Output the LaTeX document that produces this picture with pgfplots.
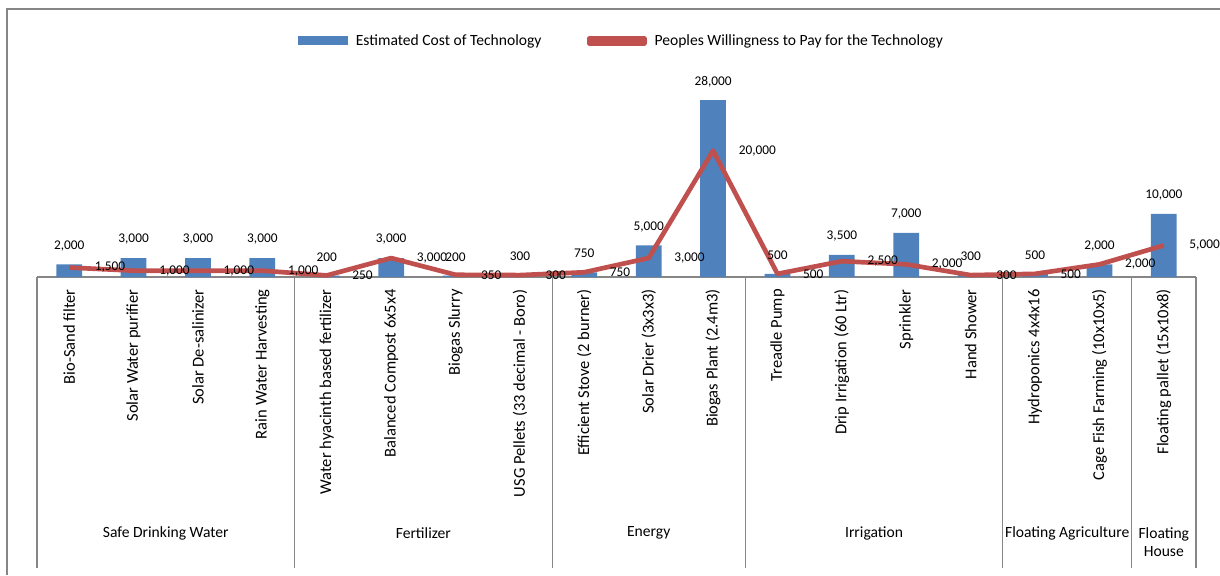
\documentclass[border=0pt]{standalone}
\usepackage{fontspec}
\setmainfont{Carlito}
\usepackage{pgfplots}
\pgfplotsset{compat=1.18}
\definecolor{barblue}{HTML}{4F81BD}
\definecolor{linered}{HTML}{C0504D}
\definecolor{rulegray}{HTML}{868686}

\begin{document}
\begin{tikzpicture}[x=0.75pt,y=0.75pt]
\useasboundingbox (0,0) rectangle (1220,575);
% chart area frame (top and left edges)
\draw[rulegray, line width=1pt] (7,0) -- (7,566) -- (1220,566);

\begin{axis}[
  at={(27.75pt,223.5pt)}, anchor=south west,
  scale only axis, width=869.25pt, height=142.2pt,
  xmin=-0.5, xmax=17.5, ymin=0, ymax=30000,
  axis x line=bottom, axis y line=none,
  axis line style={-, draw=rulegray, line width=0.8pt},
  xtick={0,...,17},
  xticklabels={Bio-Sand filter, Solar Water purifier, Solar De-salinizer,
    Rain Water Harvesting, Water hyacinth based fertilizer,
    Balanced Compost 6x5x4, Biogas Slurry, USG Pellets (33 decimal - Boro),
    Efficient Stove (2 burner), Solar Drier (3x3x3), Biogas Plant (2.4m3),
    Treadle Pump, Drip Irrigation (60 Ltr), Sprinkler, Hand Shower,
    Hydroponics 4x4x16, Cage Fish Farming (10x10x5), Floating pallet (15x10x8)},
  xticklabel style={rotate=90, anchor=east, inner sep=0pt,
    font=\fontsize{12.4}{14}\selectfont},
  xticklabel shift=9pt,
  major tick length=0pt,
  clip=false,
  /pgf/number format/fixed,
  /pgf/number format/1000 sep={,},
  /pgf/number format/assume math mode=true,
  legend columns=2,
  legend cell align=left,
  legend style={at={(0.5045,1.245)}, anchor=center, draw=none, fill=none,
    font=\fontsize{11.7}{14}\selectfont,
    /tikz/every odd column/.append style={column sep=4pt},
    /tikz/every even column/.append style={column sep=32pt}},
]
% estimated cost of each technology
\addplot[ybar, bar width=0.4, fill=barblue, draw=none,
  nodes near coords,
  every node near coord/.append style={anchor=center, yshift=14pt,
    text=black, font=\fontsize{10}{12}\selectfont},
  legend image code/.code={\fill[barblue] (0pt,-3.4pt) rectangle (37.5pt,3.4pt);}]
coordinates {
  (0,2000) (1,3000) (2,3000) (3,3000) (4,200) (5,3000) (6,200) (7,300)
  (8,750) (9,5000) (10,28000) (11,500) (12,3500) (13,7000) (14,300)
  (15,500) (16,2000) (17,10000)
};
\addlegendentry{Estimated Cost of Technology}

% what people are willing to pay
\addplot[linered, line width=3.5pt, line join=round, mark=none, sharp plot,
  nodes near coords,
  every node near coord/.append style={anchor=west, xshift=17.5pt, inner sep=0pt,
    text=black, font=\fontsize{10}{12}\selectfont},
  legend image code/.code={%
    \draw[overlay, linered, line width=3.5pt, line cap=round] (0pt,0pt) -- (40pt,0pt);
    \path (-1.75pt,-1.75pt) rectangle (39.5pt,1.75pt);}]
coordinates {
  (0,1500) (1,1000) (2,1000) (3,1000) (4,250) (5,3000) (6,350) (7,300)
  (8,750) (9,3000) (10,20000) (11,500) (12,2500) (13,2000) (14,300)
  (15,500) (16,2000) (17,5000)
};
\addlegendentry{Peoples Willingness to Pay for the Technology}

% group separators of the two-level category axis
\pgfplotsinvokeforeach{-0.5,3.5,7.5,10.5,14.5,16.5,17.5}{
  \draw[rulegray, line width=0.8pt] (axis cs:#1,0) -- ++(0pt,-218.25pt);
}
% group names
\begin{scope}[every node/.style={font=\fontsize{11.7}{14}\selectfont}]
\node at (axis cs:1.5,0)  [yshift=-192pt] {Safe Drinking Water};
\node at (axis cs:5.5,0)  [yshift=-192pt] {Fertilizer};
\node at (axis cs:9,0)    [yshift=-192pt] {Energy};
\node at (axis cs:12.5,0) [yshift=-192pt] {Irrigation};
\node at (axis cs:15.5,0) [yshift=-192pt] {Floating Agriculture};
\node at (axis cs:17,0)   [yshift=-198.75pt, align=center,
  font=\fontsize{11.7}{13.5}\selectfont] {Floating\\House};
\end{scope}
\end{axis}
\end{tikzpicture}
\end{document}
